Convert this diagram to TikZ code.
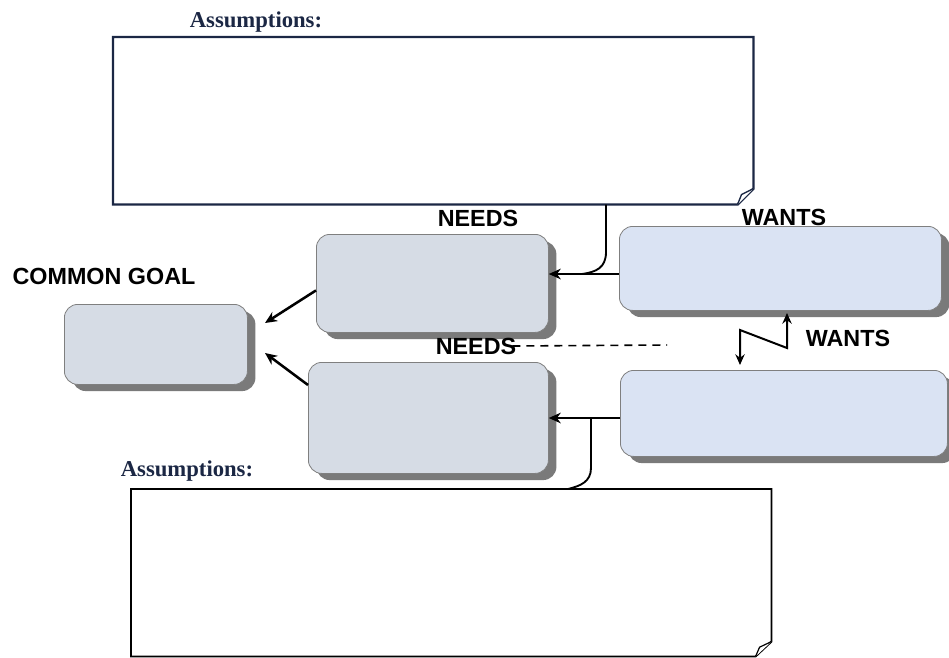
\documentclass[tikz,border=0pt]{standalone}
\usepackage{fontspec}
\setmainfont{Liberation Serif}
\setsansfont{Liberation Sans}
\usetikzlibrary{arrows.meta,shadows,calc}
\definecolor{navy}{HTML}{1B2744}
\definecolor{needsfill}{HTML}{D6DCE5}
\definecolor{wantsfill}{HTML}{DAE3F3}
\definecolor{boxline}{HTML}{7F7F7F}
\definecolor{shadowgray}{HTML}{7A7A7A}
\begin{document}
\begin{tikzpicture}[x=0.75pt,y=-0.75pt,
  card/.style={rectangle, rounded corners=10pt, draw=boxline, line width=0.6pt,
    anchor=north west, inner sep=0pt,
    drop shadow={shadow xshift=6pt, shadow yshift=-5pt, fill=shadowgray, opacity=1}},
  needsbox/.style={card, fill=needsfill},
  wantsbox/.style={card, fill=wantsfill},
  lbl/.style={font=\sffamily\bfseries\fontsize{17.5}{20}\selectfont, inner sep=0pt},
  asmlbl/.style={font=\rmfamily\bfseries\fontsize{17}{20}\selectfont, text=navy, inner sep=0pt},
  arr/.style={line width=1.9pt, -{Stealth[length=9pt,width=8pt]}},
  asmframe/.style={rectangle, anchor=north west, inner sep=0pt}
]
\useasboundingbox (0,0) rectangle (949,657);

% labels
\node[asmlbl] (asm1lbl) at (256,22) {Assumptions:};
\node[asmlbl] (asm2lbl) at (187,471) {Assumptions:};
\node[lbl] (needs1lbl) at (478,218) {NEEDS};
\node[lbl] (wants1lbl) at (784,217) {WANTS};
\node[lbl] (goallbl) at (104,276) {COMMON GOAL};
\node[lbl] (wants2lbl) at (848,338) {WANTS};

% assumption frames
\node[asmframe, minimum width=480pt, minimum height=125.25pt] (asm1) at (113,37) {};
\draw[navy, line width=1.8pt, line join=miter]
  (asm1.north west) -- (asm1.north east) -- ([yshift=12pt]asm1.south east)
  -- ([xshift=-12pt]asm1.south east) -- (asm1.south west) -- cycle;
\draw[navy, line width=1pt, fill=white, line join=round]
  ([xshift=-12pt]asm1.south east) -- ([xshift=-9pt,yshift=7.5pt]asm1.south east)
  -- ([yshift=12pt]asm1.south east);

\node[asmframe, minimum width=480pt, minimum height=125.25pt] (asm2) at (131,489) {};
\draw[black, line width=1.4pt, line join=miter]
  (asm2.north west) -- (asm2.north east) -- ([yshift=11.25pt]asm2.south east)
  -- ([xshift=-12pt]asm2.south east) -- (asm2.south west) -- cycle;
\draw[black, line width=0.9pt, fill=white, line join=round]
  ([xshift=-12pt]asm2.south east) -- ([xshift=-9pt,yshift=7pt]asm2.south east)
  -- ([yshift=11.25pt]asm2.south east);

% boxes
\node[needsbox, minimum width=137.25pt, minimum height=60pt] (goal) at (64,304) {};
\node[needsbox, minimum width=174pt, minimum height=73.5pt] (needs1) at (316,234) {};
\node[needsbox, minimum width=180pt, minimum height=83.25pt] (needs2) at (308,362) {};
\node[wantsbox, minimum width=241.5pt, minimum height=63pt] (wants1) at (619,226) {};
\node[wantsbox, minimum width=245.25pt, minimum height=64.5pt] (wants2) at (620,370) {};

% middle NEEDS label and dashed line
\node[lbl] (needs2lbl) at (476,346) {NEEDS};
\coordinate (dashend) at (667,345);
\draw[line width=1.2pt, dash pattern=on 6pt off 4.5pt] ([xshift=-3pt]needs2lbl.east) -- (dashend);

% arrows to common goal
\coordinate (g1) at (265,323);
\coordinate (g2) at (265,353);
\draw[arr] ([yshift=-5.25pt]needs1.west) -- (g1);
\draw[arr] ([yshift=-17.25pt]needs2.north west) -- (g2);

% wants -> needs arrows
\coordinate (a1) at (619,274);
\draw[arr] (a1) -- (a1 -| needs1.east);
\coordinate (a2) at (620,418);
\draw[arr] (a2) -- (a2 -| needs2.east);

% assumption connectors
\coordinate (c1) at (606,274);
\coordinate (c1e) at (582,274);
\draw[line width=1.4pt] (c1 |- asm1.south) -- (606,252) .. controls (606,268) and (596,272) .. (c1e);
\coordinate (c2) at (591,418);
\coordinate (c2e) at (568,489);
\draw[line width=1.4pt] (c2) -- (591,468) .. controls (591,482) and (580,486) .. (c2e);

% lightning between wants boxes
\coordinate (z1) at (740,330);
\coordinate (z2) at (787,348);
\draw[line width=1.5pt, {Stealth[length=8pt,width=7pt]}-{Stealth[length=8pt,width=7pt]}]
  (740,365) -- (z1) -- (z2) -- (787,313);
\end{tikzpicture}
\end{document}
